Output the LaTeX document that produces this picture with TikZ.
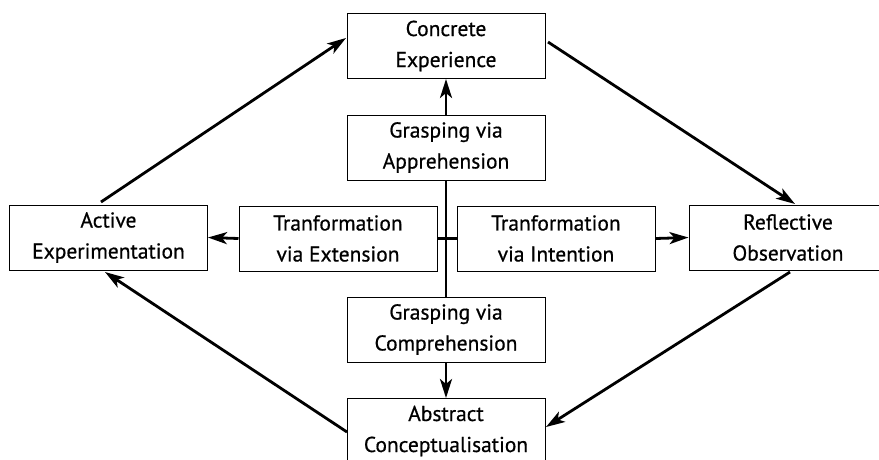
\documentclass[tikz,border=0pt]{standalone}
\usepackage{fontspec}
\setmainfont{PT Sans}[FakeBold=0.6]
\usetikzlibrary{arrows.meta}
\begin{document}
\begin{tikzpicture}[x=1pt,y=-1pt,
  box/.style={draw,line width=1pt,minimum width=198pt,minimum height=65pt,inner sep=0pt,align=center,font=\fontsize{21.5}{31}\selectfont},
  conn/.style={line width=2.8pt,-{Stealth[length=19pt,width=12pt,inset=5pt]}},
  plain/.style={line width=2.8pt}]
\useasboundingbox (0,0) rectangle (879,459);
\node[box] (ce) at (446,46) {Concrete\\Experience};
\node[box] (gva) at (446,147.5) {Grasping via\\Apprehension};
\node[box] (gvc) at (446,329.5) {Grasping via\\Comprehension};
\node[box] (ac) at (446,431) {Abstract\\Conceptualisation};
\node[box] (tve) at (338,238.5) {Tranformation\\via Extension};
\node[box] (tvi) at (556,238.5) {Tranformation\\via Intention};
\node[box] (ae) at (108.5,237.5) {Active\\Experimentation};
\node[box] (ro) at (788,237.5) {Reflective\\Observation};
\draw[conn] (gva.north) -- (ce.south);
\draw[conn] (gvc.south) -- (ac.north);
\draw[plain] (gva.south) -- (gvc.north);
\draw[plain] (tve.east) -- (tvi.west);
\draw[conn] (tve.west) -- (ae.east);
\draw[conn] (tvi.east) -- (ro.west);
\coordinate (a1) at (101,202);
\coordinate (a2) at (346,38);
\coordinate (b1) at (548,42);
\coordinate (b2) at (795,204);
\coordinate (r1) at (790,272);
\coordinate (r2) at (546,427);
\coordinate (l1) at (347,432);
\coordinate (l2) at (105,272);
\draw[conn] (a1) -- (a2);
\draw[conn] (b1) -- (b2);
\draw[conn] (r1) -- (r2);
\draw[conn] (l1) -- (l2);
\end{tikzpicture}
\end{document}
